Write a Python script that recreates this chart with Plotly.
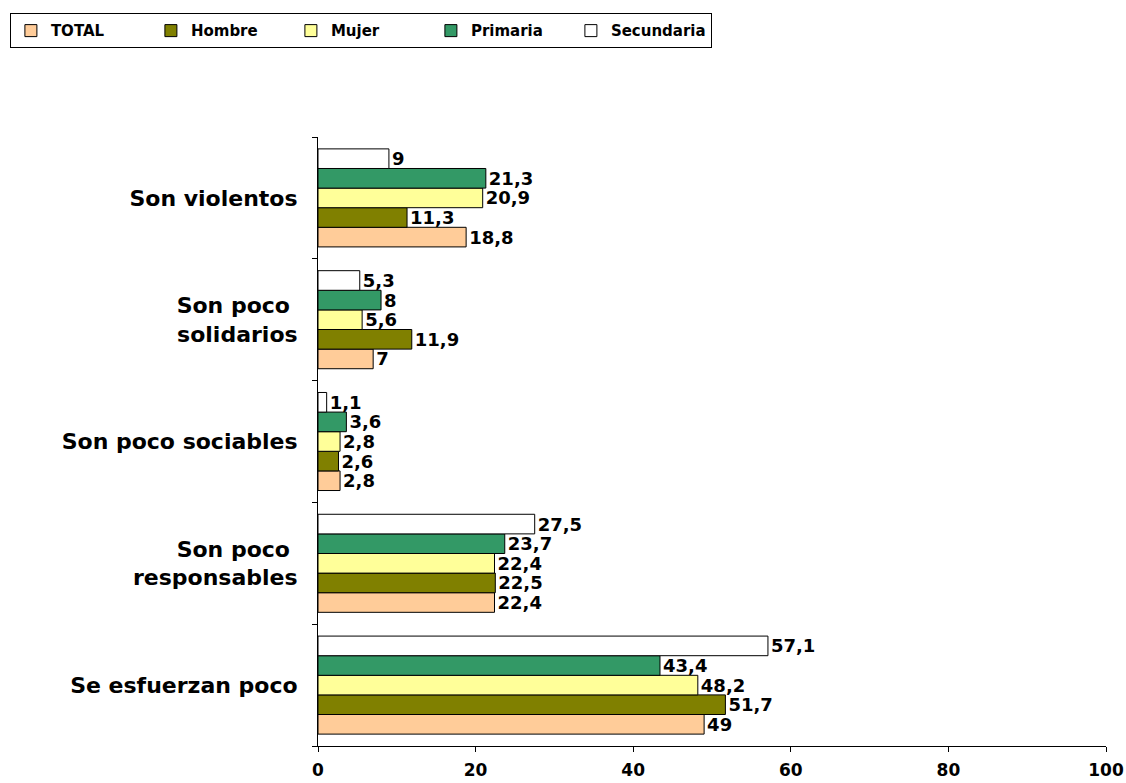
import plotly.graph_objects as go

categories = ["Se esfuerzan poco", "Son poco&nbsp;<br>responsables", "Son poco sociables",
              "Son poco&nbsp;<br>solidarios", "Son violentos"]
series_names = ["TOTAL", "Hombre", "Mujer", "Primaria", "Secundaria"]
total = [49, 22.4, 2.8, 7, 18.8]
hombre = [51.7, 22.5, 2.6, 11.9, 11.3]
mujer = [48.2, 22.4, 2.8, 5.6, 20.9]
primaria = [43.4, 23.7, 3.6, 8, 21.3]
secundaria = [57.1, 27.5, 1.1, 5.3, 9]
x_ticks = [0, 20, 40, 60, 80, 100]

colors = ["#FFCC99", "#808000", "#FFFF99", "#339966", "#FFFFFF"]
values = [total, hombre, mujer, primaria, secundaria]

FONT = "DejaVu Sans"

def fmt(v):
    s = ("%g" % v).replace(".", ",")
    return s

fig = go.Figure()
for name, vals, col in zip(series_names, values, colors):
    fig.add_trace(go.Bar(
        y=categories, x=vals, name=name, orientation="h",
        marker=dict(color=col, line=dict(color="black", width=1)),
        text=[fmt(v) for v in vals], textposition="outside",
        textfont=dict(family=FONT, size=18, color="black", weight="bold"),
        constraintext="none", cliponaxis=False,
    ))

fig.update_layout(
    width=1126, height=783,
    paper_bgcolor="white", plot_bgcolor="white",
    margin=dict(l=318, r=20, t=137, b=37, autoexpand=False),
    barmode="group", bargap=0.195, bargroupgap=0,
    font=dict(family=FONT, color="black"),
    legend=dict(
        orientation="h", x=-0.391, y=1.203, xanchor="left", yanchor="top",
        bordercolor="black", borderwidth=1, bgcolor="white",
        font=dict(family=FONT, size=15, color="black", weight="bold"),
        traceorder="normal", entrywidth=95, itemwidth=30,
    ),
    showlegend=True,
)
fig.update_xaxes(
    range=[0, 100], tickvals=x_ticks, showgrid=False, zeroline=False,
    showline=True, linecolor="black", linewidth=1, automargin=False,
    ticks="outside", ticklen=5, tickcolor="black", ticklabelstandoff=4,
    tickfont=dict(family=FONT, size=17, color="black", weight="bold"),
)
fig.update_yaxes(
    showgrid=False, showline=True, linecolor="black", linewidth=1, automargin=False,
    ticks="outside", ticklen=5, tickcolor="black", tickson="boundaries",
    tickfont=dict(family=FONT, size=22, color="black", weight="bold"),
    ticklabelstandoff=15,
)

# remove the browser's default 8px body margin so the figure fills the window
fig.write_html("out.html", config={"displayModeBar": False},
               post_script="document.body.style.margin='0';")
